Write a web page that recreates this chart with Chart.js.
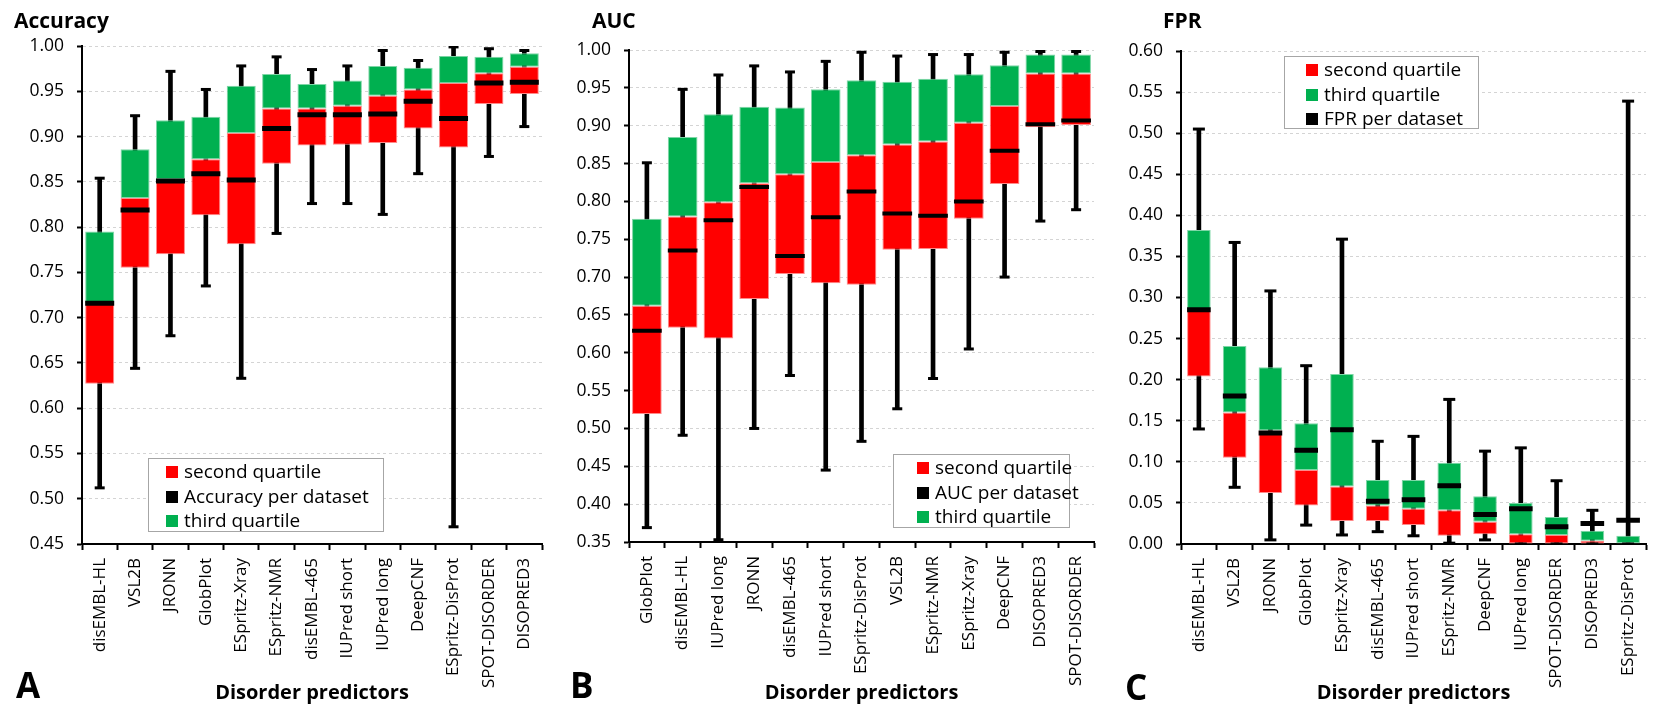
<!DOCTYPE html>
<html>
<head>
<meta charset="utf-8">
<script src="https://cdn.jsdelivr.net/npm/chart.js@4.4.1/dist/chart.umd.min.js"></script>
<style>
  body { margin:0; background:#fff; width:1655px; height:709px; position:relative; overflow:hidden; font-family: "Open Sans", Lato, sans-serif; color:#000; }
  canvas { position:absolute; top:0; }
  .ttl { position:absolute; font-weight:bold; font-size:21px; line-height:1; }
  .letter { position:absolute; font-weight:bold; font-size:35px; line-height:1; }
  .legend { position:absolute; border:1px solid #a6a6a6; background:#fff; font-size:19px; box-sizing:border-box; z-index:2; }
  .legend div { height:24.5px; line-height:24.5px; white-space:nowrap; }
  .legend span { display:inline-block; width:12px; height:12px; margin-right:6px; }
</style>
</head>
<body>
<canvas id="chartA" width="550" height="709" style="left:0px"></canvas>
<canvas id="chartB" width="552" height="709" style="left:550px"></canvas>
<canvas id="chartC" width="553" height="709" style="left:1102px"></canvas>

<div class="ttl" style="left:14px;top:10px">Accuracy</div>
<div class="ttl" style="left:592px;top:10px">AUC</div>
<div class="ttl" style="left:1163px;top:10px">FPR</div>
<div class="letter" style="left:16px;top:667px">A</div>
<div class="letter" style="left:570px;top:667px">B</div>
<div class="letter" style="left:1125px;top:669px">C</div>

<div id="legendA" class="legend" style="left:148px;top:458px;width:236px;height:74px;padding-left:17px"></div>
<div id="legendB" class="legend" style="left:893px;top:454px;width:177px;height:74px;padding-left:23px"></div>
<div id="legendC" class="legend" style="left:1284px;top:56px;width:195px;height:73px;padding-left:21px"></div>

<script>
const RED = '#ff0000';
const GREEN = '#00b050';
const BLACK = '#000000';
const FONT = 'Open Sans';

// --- A: Accuracy ---
const accLabels = ['disEMBL-HL','VSL2B','JRONN','GlobPlot','ESpritz-Xray','ESpritz-NMR','disEMBL-465','IUPred short','IUPred long','DeepCNF','ESpritz-DisProt','SPOT-DISORDER','DISOPRED3'];
const accMin = [0.512, 0.644, 0.680, 0.735, 0.633, 0.793, 0.826, 0.826, 0.814, 0.859, 0.469, 0.878, 0.911];
const accQ1 = [0.627, 0.755, 0.770, 0.813, 0.781, 0.870, 0.890, 0.891, 0.893, 0.909, 0.888, 0.936, 0.947];
const accMedian = [0.716, 0.832, 0.853, 0.875, 0.904, 0.931, 0.931, 0.934, 0.945, 0.952, 0.959, 0.970, 0.977];
const accQ3 = [0.795, 0.886, 0.918, 0.922, 0.956, 0.969, 0.958, 0.962, 0.978, 0.976, 0.989, 0.988, 0.992];
const accMax = [0.854, 0.923, 0.972, 0.952, 0.978, 0.988, 0.974, 0.978, 0.995, 0.984, 0.999, 0.997, 0.995];
const accPerDataset = [0.716, 0.819, 0.851, 0.859, 0.852, 0.909, 0.924, 0.924, 0.925, 0.939, 0.920, 0.959, 0.960];
const accTicks = [0.45, 0.50, 0.55, 0.60, 0.65, 0.70, 0.75, 0.80, 0.85, 0.90, 0.95, 1.00];
const accLegend = [['second quartile', RED], ['Accuracy per dataset', BLACK], ['third quartile', GREEN]];

// --- B: AUC ---
const aucLabels = ['GlobPlot','disEMBL-HL','IUPred long','JRONN','disEMBL-465','IUPred short','ESpritz-DisProt','VSL2B','ESpritz-NMR','ESpritz-Xray','DeepCNF','DISOPRED3','SPOT-DISORDER'];
const aucMin = [0.369, 0.491, 0.353, 0.500, 0.570, 0.445, 0.483, 0.526, 0.566, 0.605, 0.700, 0.774, 0.789];
const aucQ1 = [0.519, 0.633, 0.619, 0.671, 0.704, 0.692, 0.690, 0.736, 0.737, 0.777, 0.823, 0.898, 0.901];
const aucMedian = [0.662, 0.780, 0.799, 0.824, 0.836, 0.852, 0.861, 0.875, 0.879, 0.904, 0.926, 0.969, 0.969];
const aucQ3 = [0.777, 0.885, 0.915, 0.925, 0.924, 0.948, 0.960, 0.958, 0.962, 0.968, 0.980, 0.994, 0.994];
const aucMax = [0.851, 0.948, 0.967, 0.979, 0.971, 0.985, 0.997, 0.992, 0.994, 0.994, 0.997, 0.998, 0.998];
const aucPerDataset = [0.629, 0.735, 0.775, 0.819, 0.728, 0.779, 0.813, 0.784, 0.781, 0.800, 0.867, 0.902, 0.907];
const aucTicks = [0.35, 0.40, 0.45, 0.50, 0.55, 0.60, 0.65, 0.70, 0.75, 0.80, 0.85, 0.90, 0.95, 1.00];
const aucLegend = [['second quartile', RED], ['AUC per dataset', BLACK], ['third quartile', GREEN]];

// --- C: FPR ---
const fprLabels = ['disEMBL-HL','VSL2B','JRONN','GlobPlot','ESpritz-Xray','disEMBL-465','IUPred short','ESpritz-NMR','DeepCNF','IUPred long','SPOT-DISORDER','DISOPRED3','ESpritz-DisProt'];
const fprMin = [0.140, 0.069, 0.005, 0.023, 0.011, 0.015, 0.010, 0.001, 0.005, 0, 0, 0, 0];
const fprQ1 = [0.204, 0.105, 0.062, 0.047, 0.028, 0.028, 0.023, 0.010, 0.012, 0, 0, 0, 0];
const fprMedian = [0.285, 0.160, 0.138, 0.090, 0.070, 0.047, 0.043, 0.041, 0.027, 0.012, 0.011, 0.004, 0.001];
const fprQ3 = [0.382, 0.241, 0.215, 0.147, 0.207, 0.078, 0.078, 0.099, 0.058, 0.050, 0.033, 0.016, 0.010];
const fprMax = [0.505, 0.367, 0.308, 0.217, 0.371, 0.125, 0.131, 0.176, 0.113, 0.117, 0.077, 0.041, 0.539];
const fprPerDataset = [0.285, 0.180, 0.135, 0.114, 0.139, 0.052, 0.054, 0.071, 0.036, 0.043, 0.021, 0.025, 0.029];
const fprTicks = [0, 0.05, 0.10, 0.15, 0.20, 0.25, 0.30, 0.35, 0.40, 0.45, 0.50, 0.55, 0.60];
const fprLegend = [['second quartile', RED], ['third quartile', GREEN], ['FPR per dataset', BLACK]];

function fillLegend(id, items){
  const box = document.getElementById(id);
  items.forEach(([text, color]) => {
    const row = document.createElement('div');
    row.innerHTML = `<span style="background:${color}"></span>${text}`;
    box.appendChild(row);
  });
}

// half of a box's pixel width, so the marker lines match the boxes
function halfBox(ctx, pct){
  const xs = ctx.chart.scales.x;
  return xs.width / ctx.chart.data.labels.length * pct / 2;
}

function buildPanel(p){
  const tickLine = (data, r, w, label) => ({
    type: 'line', label, data, showLine: false, pointStyle: 'line',
    pointRadius: r, pointHoverRadius: r, pointBorderWidth: w, pointHoverBorderWidth: w,
    borderColor: BLACK, backgroundColor: BLACK, order: 1
  });
  new Chart(document.getElementById(p.canvas).getContext('2d'), {
    type: 'bar',
    data: {
      labels: p.labels,
      datasets: [
        Object.assign(tickLine(p.perDataset, ctx => halfBox(ctx, p.barPct), p.medW, p.perLabel), { order: 0 }),
        tickLine(p.max, p.capR, 3, 'max'),
        tickLine(p.min, p.capR, 3, 'min'),
        {
          label: 'second quartile', data: p.q1.map((v, i) => [v, p.median[i]]),
          backgroundColor: RED, borderColor: '#ff8a8a', borderWidth: 1, borderSkipped: false,
          barPercentage: p.barPct, categoryPercentage: 1, grouped: false, order: 2
        },
        {
          label: 'third quartile', data: p.median.map((v, i) => [v, p.q3[i]]),
          backgroundColor: GREEN, borderColor: '#7ed6a6', borderWidth: 1, borderSkipped: false,
          barPercentage: p.barPct, categoryPercentage: 1, grouped: false, order: 2
        },
        {
          label: 'whisker', data: p.min.map((v, i) => [v, p.max[i]]),
          backgroundColor: BLACK, barThickness: 4, grouped: false, order: 3
        }
      ]
    },
    options: {
      responsive: false, animation: false, events: [],
      layout: { padding: { top: p.top, right: p.padRight, left: 0, bottom: 0 } },
      plugins: { legend: { display: false }, tooltip: { enabled: false } },
      scales: {
        x: {
          offset: true,
          grid: { offset: true, drawOnChartArea: false, drawTicks: true, tickLength: 6, tickColor: BLACK, tickWidth: 2 },
          border: { color: BLACK, width: 2 },
          ticks: { autoSkip: false, minRotation: 90, maxRotation: 90, padding: 8, color: BLACK, font: { family: FONT, size: 17 } },
          title: { display: true, text: 'Disorder predictors', color: BLACK, font: { family: FONT, size: 20, weight: 'bold' }, padding: { top: 0, bottom: 4 } },
          afterFit: s => { s.height = 709 - p.bottom; s.paddingLeft = 0; s.paddingRight = 0; }
        },
        y: {
          min: p.ticks[0], max: p.ticks[p.ticks.length - 1],
          afterBuildTicks: s => { s.ticks = p.ticks.map(v => ({ value: v })); },
          grid: { color: '#d4d4d4', lineWidth: 1, tickColor: BLACK, tickLength: 5, tickWidth: 2 },
          border: { color: BLACK, width: 2, dash: [3, 3] },
          ticks: { padding: 13, color: BLACK, font: { family: FONT, size: 17.5 }, callback: v => v.toFixed(2) },
          afterFit: s => { s.width = p.left; s.paddingTop = 0; s.paddingBottom = 0; }
        }
      }
    }
  });
}

buildPanel({ canvas: 'chartA', labels: accLabels, min: accMin, q1: accQ1, median: accMedian, q3: accQ3, max: accMax,
  perDataset: accPerDataset, perLabel: 'Accuracy per dataset', ticks: accTicks,
  left: 82, top: 46, bottom: 544, padRight: 6, barPct: 0.82, medW: 5, capR: 5 });
buildPanel({ canvas: 'chartB', labels: aucLabels, min: aucMin, q1: aucQ1, median: aucMedian, q3: aucQ3, max: aucMax,
  perDataset: aucPerDataset, perLabel: 'AUC per dataset', ticks: aucTicks,
  left: 79, top: 50, bottom: 542, padRight: 2, barPct: 0.83, medW: 4, capR: 5 });
buildPanel({ canvas: 'chartC', labels: fprLabels, min: fprMin, q1: fprQ1, median: fprMedian, q3: fprQ3, max: fprMax,
  perDataset: fprPerDataset, perLabel: 'FPR per dataset', ticks: fprTicks,
  left: 79, top: 51, bottom: 544, padRight: 1, barPct: 0.66, medW: 5, capR: 6 });

fillLegend('legendA', accLegend);
fillLegend('legendB', aucLegend);
fillLegend('legendC', fprLegend);
</script>
</body>
</html>
